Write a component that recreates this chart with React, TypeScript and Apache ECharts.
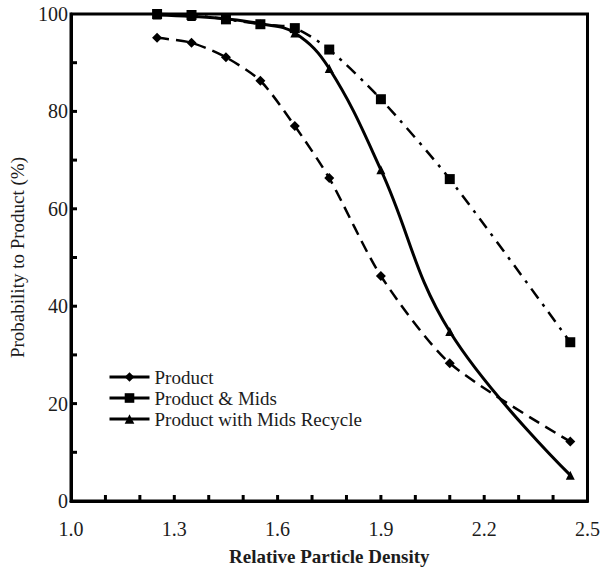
import React, { useEffect, useRef } from "react";
import * as echarts from "echarts";

const densities = [1.25, 1.35, 1.45, 1.55, 1.65, 1.75, 1.9, 2.1, 2.45];
const productValues = [95.1, 94.1, 91.1, 86.3, 77.0, 66.3, 46.2, 28.3, 12.2];
const productMidsValues = [100, 99.8, 98.9, 97.9, 97.1, 92.7, 82.5, 66.1, 32.6];
const recycleValues = [99.8, 99.5, 99.0, 98.0, 96.1, 88.8, 68.0, 34.8, 5.3];
const seriesNames = ["Product", "Product & Mids", "Product with Mids Recycle"];
const xTickValues = [1.1, 1.2, 1.3, 1.4, 1.5, 1.6, 1.7, 1.8, 1.9, 2.0, 2.1, 2.2, 2.3, 2.4];
const yTickValues = [10, 20, 30, 40, 50, 60, 70, 80, 90];

const FONT = "'Liberation Serif', 'Times New Roman', serif";
const TXT = "#1c1c1c";

function pairs(vals: number[]) {
  return densities.map((d, i) => [d, vals[i]]);
}

export default function App() {
  const ref = useRef<HTMLDivElement>(null);
  useEffect(() => {
    if (!ref.current) return;
    const chart = echarts.init(ref.current, null, { renderer: "svg" });
    const tickData = [
      ...xTickValues.map((v) => [v, 0, 0]),
      ...yTickValues.map((v) => [1.0, v, 1]),
    ];
    chart.setOption({
      animation: false,
      backgroundColor: "#ffffff",
      grid: {
        left: 70,
        right: 15,
        top: 14,
        bottom: 71,
        show: true,
        borderColor: "#000",
        borderWidth: 3,
        backgroundColor: "transparent",
      },
      legend: {
        left: 103,
        top: 362,
        orient: "vertical",
        itemWidth: 40,
        itemHeight: 12,
        itemGap: 1,
        data: seriesNames,
        lineStyle: { type: "solid", width: 3 },
        textStyle: { fontFamily: FONT, fontSize: 19, color: TXT, lineHeight: 20 },
      },
      xAxis: {
        type: "value",
        min: 1.0,
        max: 2.5,
        interval: 0.3,
        name: "Relative Particle Density",
        nameLocation: "middle",
        nameGap: 46,
        nameTextStyle: { fontFamily: FONT, fontSize: 19, fontWeight: "bold", color: TXT },
        axisLine: { show: true, lineStyle: { color: "#000", width: 3 } },
        axisTick: { show: false },
        splitLine: { show: false },
        axisLabel: {
          fontFamily: FONT,
          fontSize: 20,
          color: TXT,
          margin: 18,
          formatter: (v: number) => v.toFixed(1),
        },
      },
      yAxis: {
        type: "value",
        min: 0,
        max: 100,
        interval: 20,
        name: "Probability to Product (%)",
        nameLocation: "middle",
        nameGap: 44,
        nameTextStyle: { fontFamily: FONT, fontSize: 19, color: TXT },
        axisLine: { show: true, lineStyle: { color: "#000", width: 3 } },
        axisTick: { show: false },
        splitLine: { show: false },
        axisLabel: { fontFamily: FONT, fontSize: 20, color: TXT, margin: 3 },
      },
      series: [
        {
          name: "ticks",
          type: "custom",
          silent: true,
          clip: false,
          z: 5,
          data: tickData,
          renderItem: (params: any, api: any) => {
            const p = api.coord([api.value(0), api.value(1)]);
            const vertical = api.value(2) === 0;
            return {
              type: "line",
              shape: vertical
                ? { x1: p[0], y1: p[1], x2: p[0], y2: p[1] - 6 }
                : { x1: p[0], y1: p[1], x2: p[0] + 6, y2: p[1] },
              style: { stroke: "#000", lineWidth: 3 },
            };
          },
        },
        {
          name: seriesNames[0],
          type: "line",
          data: pairs(productValues),
          symbol: "diamond",
          symbolSize: 10,
          smooth: 0.25,
          clip: false,
          itemStyle: { color: "#000" },
          lineStyle: { color: "#000", width: 2.5, type: [12, 7] },
        },
        {
          name: seriesNames[1],
          type: "line",
          data: pairs(productMidsValues),
          symbol: "rect",
          symbolSize: 10,
          smooth: 0.25,
          clip: false,
          itemStyle: { color: "#000" },
          lineStyle: { color: "#000", width: 2.5, type: [12, 7, 3, 7] },
        },
        {
          name: seriesNames[2],
          type: "line",
          data: pairs(recycleValues),
          symbol: "triangle",
          symbolSize: 9,
          smooth: 0.4,
          clip: false,
          itemStyle: { color: "#000" },
          lineStyle: { color: "#000", width: 3, type: "solid" },
        },
      ],
    });
    return () => chart.dispose();
  }, []);
  return (
    <div
      ref={ref}
      style={{ position: "fixed", left: 0, top: 0, width: 603, height: 572, background: "#fff" }}
    />
  );
}
